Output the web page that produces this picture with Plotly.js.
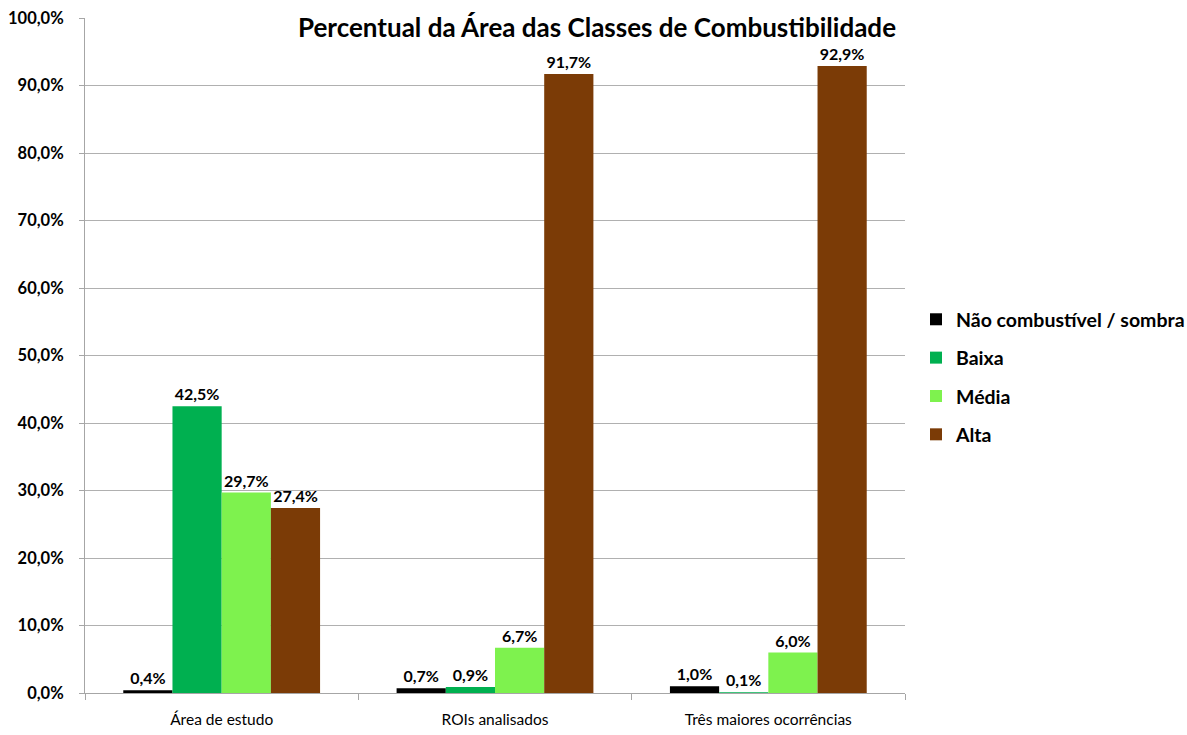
<!DOCTYPE html>
<html>
<head>
<meta charset="utf-8">
<script src="https://cdn.plot.ly/plotly-3.0.1.min.js"></script>
<style>html,body{margin:0;padding:0;background:#fff;}#chart{width:1187px;height:735px;}</style>
</head>
<body>
<div id="chart"></div>
<script>
const categories = ["Área de estudo", "ROIs analisados", "Três maiores ocorrências"];
const seriesNames = ["Não combustível / sombra", "Baixa", "Média", "Alta"];
const naoCombustivel = [0.4, 0.7, 1.0];
const baixa = [42.5, 0.9, 0.1];
const media = [29.7, 6.7, 6.0];
const alta = [27.4, 91.7, 92.9];
const colors = ["#000000", "#00B050", "#7EF24E", "#7B3B06"];

const values = [naoCombustivel, baixa, media, alta];
const FONT = "Lato, 'Open Sans', sans-serif";
const traces = values.map((v, i) => ({
  type: "bar",
  name: seriesNames[i],
  x: categories,
  y: v,
  marker: {color: colors[i]},
  texttemplate: "%{y:.1f}%",
  textposition: "outside",
  cliponaxis: false,
  textfont: {family: FONT, size: 16, color: "#000", weight: "bold"},
  legendgroup: "g" + i,
  hoverinfo: "skip"
}));

const layout = {
  width: 1187, height: 735,
  separators: ",.",
  margin: {l: 85, r: 282, t: 18, b: 42, autoexpand: false},
  paper_bgcolor: "#fff", plot_bgcolor: "#fff",
  barmode: "group",
  bargap: 0.28,
  bargroupgap: 0,
  title: {
    text: "Percentual da Área das Classes de Combustibilidade",
    font: {family: FONT, size: 26, color: "#000", weight: "bold"},
    x: (597 - 85) / 820, xref: "paper", xanchor: "center",
    y: 1 - 28/735, yanchor: "middle"
  },
  xaxis: {
    showline: true, linecolor: "#a6a6a6", linewidth: 1,
    ticks: "outside", ticklen: 6, tickcolor: "#a6a6a6",
    tickson: "boundaries",
    ticklabelstandoff: 12,
    tickfont: {family: FONT, size: 15.5, color: "#000"},
    showgrid: false
  },
  yaxis: {
    range: [0, 100], dtick: 10,
    tickformat: ".1f", ticksuffix: "%",
    showline: true, linecolor: "#a6a6a6", linewidth: 1,
    ticks: "outside", ticklen: 5, tickcolor: "#a6a6a6",
    ticklabelstandoff: 12,
    gridcolor: "#b0b0b0", gridwidth: 1,
    zeroline: false,
    tickfont: {family: FONT, size: 16.5, color: "#000", weight: "bold"}
  },
  legend: {
    x: (916 - 85) / 820, xanchor: "left",
    y: 0.468, yanchor: "middle",
    traceorder: "grouped",
    tracegroupgap: 10,
    font: {family: FONT, size: 19.5, color: "#000", weight: "bold"},
    itemwidth: 30
  },
  showlegend: true
};

Plotly.newPlot("chart", traces, layout, {displayModeBar: false, staticPlot: true});
</script>
</body>
</html>
